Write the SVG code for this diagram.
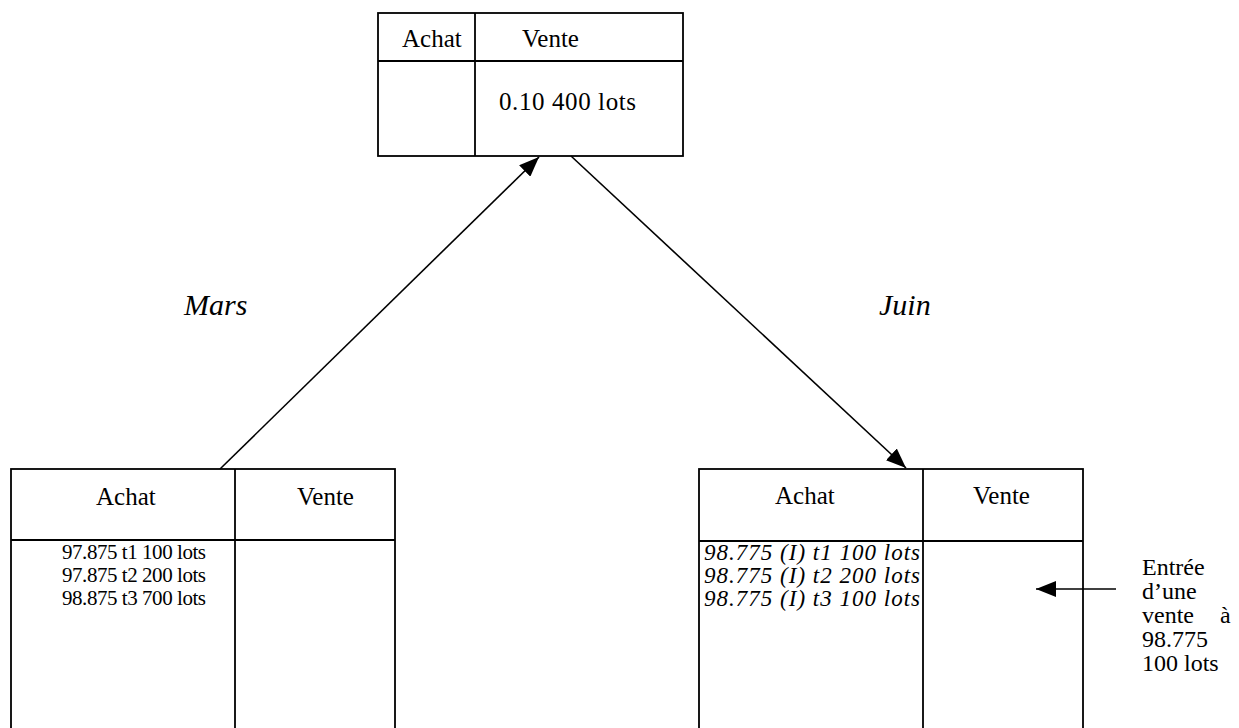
<svg xmlns="http://www.w3.org/2000/svg" width="1239" height="728" viewBox="0 0 1239 728">
<style>
.box{fill:none;stroke:#000;stroke-width:1.8}
.ln{stroke:#000;stroke-width:1.8;fill:none}
.h{font-family:"Liberation Serif","Times New Roman",serif;font-size:25px;fill:#000}
.a{font-family:"Liberation Serif","Times New Roman",serif;font-size:24px;fill:#000}
.l{font-family:"Liberation Serif","Times New Roman",serif;font-size:21px;fill:#000}
.li{font-family:"Liberation Serif","Times New Roman",serif;font-size:23px;font-style:italic;fill:#000}
.m{font-family:"Liberation Serif","Times New Roman",serif;font-size:30px;font-style:italic;fill:#000}
.c{stroke:#000;stroke-width:1.6;fill:none}
</style>
<defs>
<marker id="ah" viewBox="0 0 20 16" refX="20" refY="8" markerWidth="20" markerHeight="16" markerUnits="userSpaceOnUse" orient="auto">
<path d="M0,0 L20,8 L0,16 z" fill="#000"/>
</marker>
</defs>
<rect width="1239" height="728" fill="#fff"/>
<g id="top-box">
<rect class="box" x="378" y="13" width="305" height="143"/>
<line class="ln" x1="475" y1="13" x2="475" y2="156"/>
<line class="ln" x1="378" y1="61" x2="683" y2="61"/>
<text class="h" x="402" y="47">Achat</text>
<text class="h" x="522" y="47">Vente</text>
<text class="h" x="499" y="110" textLength="137">0.10 400 lots</text>
</g>
<g id="mars-box">
<rect class="box" x="11" y="469" width="384" height="280"/>
<line class="ln" x1="235" y1="469" x2="235" y2="749"/>
<line class="ln" x1="11" y1="540" x2="395" y2="540"/>
<text class="h" x="96" y="505">Achat</text>
<text class="h" x="297" y="505">Vente</text>
<text class="l" x="62" y="559" textLength="144">97.875 t1 100 lots</text>
<text class="l" x="62" y="582" textLength="144">97.875 t2 200 lots</text>
<text class="l" x="62" y="605" textLength="144">98.875 t3 700 lots</text>
</g>
<g id="juin-box">
<rect class="box" x="699" y="469" width="384" height="280"/>
<line class="ln" x1="923" y1="469" x2="923" y2="749"/>
<line class="ln" x1="699" y1="541" x2="1083" y2="541"/>
<text class="h" x="775" y="504">Achat</text>
<text class="h" x="973" y="504">Vente</text>
<text class="li" x="704" y="560" textLength="216">98.775 (I) t1 100 lots</text>
<text class="li" x="704" y="583" textLength="216">98.775 (I) t2 200 lots</text>
<text class="li" x="704" y="606" textLength="216">98.775 (I) t3 100 lots</text>
</g>
<g id="labels">
<text class="m" x="184" y="315">Mars</text>
<text class="m" x="879" y="315">Juin</text>
</g>
<g id="annotation">
<text class="a" x="1142" y="575">Entrée</text>
<text class="a" x="1142" y="599">d’une</text>
<text class="a" x="1142" y="623">vente <tspan x="1220">à</tspan></text>
<text class="a" x="1142" y="647">98.775</text>
<text class="a" x="1142" y="671">100 lots</text>
</g>
<g id="connectors">
<line class="c" x1="220" y1="469" x2="539" y2="157" marker-end="url(#ah)"/>
<line class="c" x1="571" y1="156" x2="906" y2="468" marker-end="url(#ah)"/>
<line class="c" x1="1116" y1="589" x2="1036" y2="589" marker-end="url(#ah)"/>
</g>
</svg>
